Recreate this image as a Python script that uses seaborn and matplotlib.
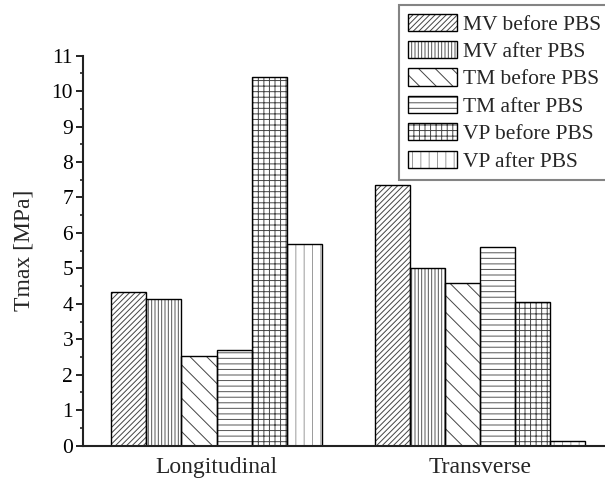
import matplotlib
matplotlib.use("Agg")
import matplotlib.pyplot as plt
from matplotlib.patches import Patch, Rectangle
from matplotlib.legend_handler import HandlerTuple
from matplotlib.ticker import MultipleLocator
import seaborn as sns
import pandas as pd

orientations = ["Longitudinal", "Transverse"]
series = ["MV before PBS", "MV after PBS", "TM before PBS",
          "TM after PBS", "VP before PBS", "VP after PBS"]
longitudinal = [4.34, 4.13, 2.54, 2.71, 10.39, 5.70]
transverse = [7.35, 5.02, 4.58, 5.60, 4.06, 0.12]

hatches = ["//////", "|||||", "\\\\", "---", "+++", "||"]
hatch_colors = ["#444444", "#555555", "#444444", "#555555", "#444444", "#9a9a9a"]

rows = []
for s, lv, tv in zip(series, longitudinal, transverse):
    rows.append({"orientation": orientations[0], "series": s, "tmax": lv})
    rows.append({"orientation": orientations[1], "series": s, "tmax": tv})
df = pd.DataFrame(rows)

sns.set_style("ticks")
plt.rcParams["font.family"] = ["Liberation Serif", "DejaVu Serif"]
plt.rcParams["hatch.linewidth"] = 0.7

fig = plt.figure(figsize=(6.05, 4.8), dpi=100)
ax = fig.add_axes([0.137, 0.0715, 0.863, 0.8125])

sns.barplot(data=df, x="orientation", y="tmax", hue="series",
            hue_order=series, order=orientations,
            palette=["white"] * len(series), width=0.8, gap=0,
            edgecolor="black", linewidth=1.0, legend=False, ax=ax)

for cont, h, hc in zip(ax.containers, hatches, hatch_colors):
    for p in cont.patches:
        p.set_hatch(h)
        p.set_edgecolor(hc)
        p.set_linewidth(0)
        ax.add_patch(Rectangle(p.get_xy(), p.get_width(), p.get_height(),
                               fill=False, edgecolor="black", linewidth=1.0,
                               zorder=p.get_zorder() + 0.1))

ax.set_xlim(-0.507, 1.474)
ax.set_ylim(0, 11)
ax.yaxis.set_major_locator(MultipleLocator(1))
ax.yaxis.set_minor_locator(MultipleLocator(0.5))
ax.tick_params(axis="y", which="major", direction="out", length=5, width=1.2,
               labelsize=15.5, colors="black", pad=2)
ax.tick_params(axis="y", which="minor", direction="out", length=2.5, width=1.2)
ax.tick_params(axis="x", length=0, labelsize=17, pad=8)
ax.set_xlabel("")
ax.set_ylabel("Tmax [MPa]", fontsize=17, labelpad=12)
for side in ["top", "right"]:
    ax.spines[side].set_visible(False)
for side in ["left", "bottom"]:
    ax.spines[side].set_linewidth(1.5)
    ax.spines[side].set_color("#222222")

handles = []
for h, hc in zip(hatches, hatch_colors):
    handles.append((Patch(facecolor="white", edgecolor=hc, hatch=h, linewidth=0),
                    Patch(facecolor="none", edgecolor="black", linewidth=1.0)))

leg = fig.legend(handles, series, loc="upper left",
                 bbox_to_anchor=(399 / 605, 1 - 5 / 480),
                 handler_map={tuple: HandlerTuple(ndivide=1, pad=0)},
                 fontsize=15.5, frameon=True, fancybox=False,
                 handlelength=2.3, handleheight=0.84, handletextpad=0.25,
                 labelspacing=0.3, borderpad=0.4, borderaxespad=0)
leg.get_frame().set_edgecolor("#666666")
leg.get_frame().set_linewidth(1.5)

fig.savefig("out.png", dpi=100)
